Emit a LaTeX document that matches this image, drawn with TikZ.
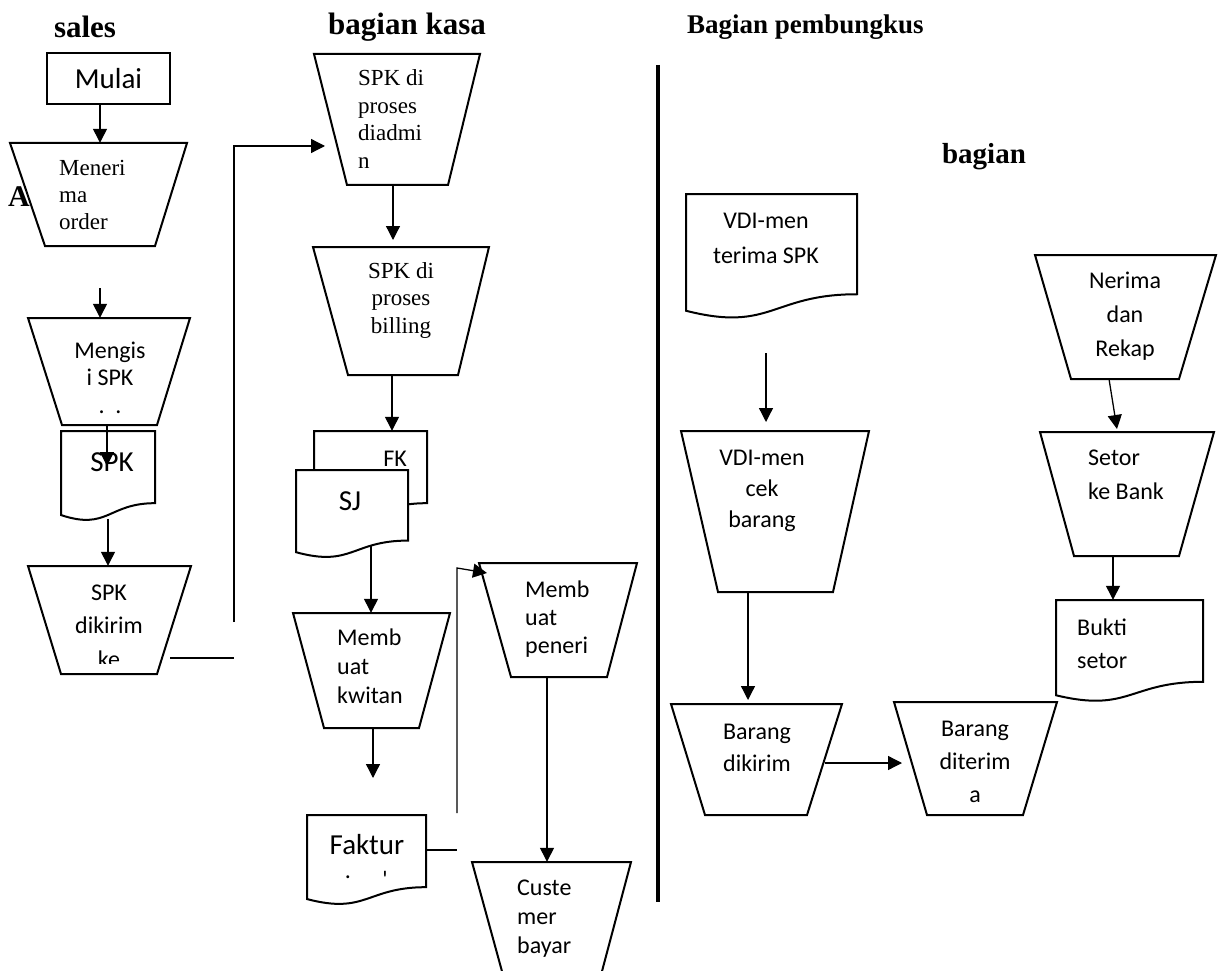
\documentclass[tikz,border=0pt]{standalone}
\usepackage{fontspec}
\setmainfont{Liberation Serif}
\newfontfamily\sansf{Carlito}
\usetikzlibrary{arrows.meta,fit,calc}

\tikzset{
  outline/.style={line width=2pt, line join=miter},
  conn/.style={line width=1.3pt},
  arr/.style={conn, -{Triangle[length=14pt,width=14pt]}},
  lanehead/.style={font=\fontsize{#1}{34}\selectfont\bfseries, inner sep=0pt},
  seriftxt/.style={font=\fontsize{23}{#1}\selectfont, inner sep=0pt, align=left},
  sanstxt/.style={font=\sansf\fontsize{24}{#1}\selectfont, inner sep=0pt},
  bigsans/.style={font=\sansf\fontsize{29}{34}\selectfont, inner sep=0pt},
}

% manual-operation box: top-left x, top-right x, top y, bottom-left x, bottom-right x, bottom y
\newcommand\trapnode[7]{%
  \draw[outline] (#2,#4) -- (#3,#4) -- (#6,#7) -- (#5,#7) -- cycle;
  \node[fit={(#2,#4) (#3,#7)}, inner sep=0pt] (#1) {};}

% document box: left x, top y, width, height
\newcommand\docnode[5]{%
  \begin{scope}[shift={(#2,#3)}]
    \draw[outline, fill=white] (0,0) -- (#4,0) -- (#4,{0.802*#5})
      .. controls ({0.5*#4},{0.802*#5}) and ({0.5*#4},{1.108*#5}) .. (0,{0.934*#5}) -- cycle;
  \end{scope}
  \node[fit={(#2,#3) ({#2+#4},{#3+#5})}, inner sep=0pt] (#1) {};}

\begin{document}
\begin{tikzpicture}[x=1pt,y=-1pt]
\useasboundingbox (0,0) rectangle (1224,971);
\fill[white] (0,0) rectangle (1224,971);
\clip (0,0) rectangle (1224,971);

% lane headings
\node[lanehead=31] (hsales) at (85,27) {sales};
\node[lanehead=31] (hkasa) at (407,27) {bagian kasa};
\node[lanehead=27, anchor=west] (hbungkus) at (687,27) {Bagian pembungkus};
\node[lanehead=29] (hbagian) at (984,157) {bagian};
\node[lanehead=30] (hA) at (19,197) {A};

% lane divider
\draw[line width=4pt] (658,65) -- (658,902);

% ---- sales ----
\node[draw, outline, minimum width=123pt, minimum height=51pt, bigsans] (mulai) at (108.5,78.5) {Mulai};
\trapnode{menerima}{10}{187}{143}{45}{155}{246}
\trapnode{mengisi}{28}{190}{318}{62}{157}{425}
\docnode{spkdoc}{61}{431}{94}{90}
\trapnode{kirimspk}{28}{191}{566}{61}{157}{674}

\node[seriftxt=27, anchor=west] (tmenerima) at (59,197) {\strut Meneri\\\strut ma\\\strut order};
\node[sanstxt=27.5, align=center] (tmengisi) at (110,380) {\strut Mengis\\\strut i SPK\\\strut .~~.};
\node[bigsans] (tspk) at (112,462) {SPK};
\begin{scope}
  \clip (20,560) rectangle (200,663);
  \node[sanstxt=33.5, align=center] (tkirim) at (109,627) {\strut SPK\\\strut dikirim\\\strut ke};
\end{scope}

% ---- bagian kasa ----
\trapnode{diadmin}{314}{480}{54}{347}{448}{185}
\trapnode{billing}{313}{489}{247}{348}{458}{375}
\docnode{fkdoc}{314}{431}{113}{90}
\node[sanstxt=28] (tfk) at (395,459) {FK};
\docnode{sjdoc}{296}{470}{112}{88}
\trapnode{kwitan}{293}{450}{613}{324}{419}{728}
\docnode{fakturdoc}{307}{815}{119}{90}
\trapnode{peneri}{479}{637}{563}{511}{607}{677}
\trapnode{custe}{472}{631}{862}{503}{601}{975}

\node[seriftxt=27.7, anchor=west] (tdiadmin) at (358,121.5) {\strut SPK di\\\strut proses\\\strut diadmi\\\strut n};
\node[seriftxt=27.5, align=center] (tbilling) at (401,300) {\strut SPK di\\\strut proses\\\strut billing};
\node[bigsans] (tsj) at (350,501) {SJ};
\node[sanstxt=29, align=left, anchor=west] (tkwitan) at (337,669) {\strut Memb\\\strut uat\\\strut kwitan};
\node[bigsans] (tfaktur) at (367,845) {Faktur};
\node[sanstxt=28] (tdot1) at (348,877) {.};
\node[sanstxt=28] (tdot2) at (385,879) {\textquotesingle};
\node[sanstxt=28, align=left, anchor=west] (tpeneri) at (525,620) {\strut Memb\\\strut uat\\\strut peneri};
\node[sanstxt=29, align=left, anchor=west] (tcuste) at (517,919) {\strut Custe\\\strut mer\\\strut bayar};

% ---- bagian pembungkus ----
\docnode{vdidoc}{686}{194}{171}{125}
\trapnode{cek}{681}{869}{431}{718}{833}{592}
\trapnode{dikirim}{671}{842}{704}{705}{807}{815}
\trapnode{diterima}{894}{1057}{702}{927}{1023}{815}
\trapnode{nerima}{1035}{1216}{255}{1071}{1179}{379}
\trapnode{setor}{1040}{1214}{432}{1074}{1179}{556}
\docnode{buktidoc}{1056}{600}{147}{102}

\node[sanstxt=35, align=center] (tvdi) at (766,239) {\strut VDI-men\\\strut terima SPK};
\node[sanstxt=31, align=center] (tcek) at (762,490) {\strut VDI-men\\\strut cek\\\strut barang};
\node[sanstxt=32, align=center] (tdikirim) at (757,749) {\strut Barang\\\strut dikirim};
\node[sanstxt=33, align=center] (tditerima) at (975,763) {\strut Barang\\\strut diterim\\\strut a};
\node[sanstxt=34, align=center] (tnerima) at (1125,316) {\strut Nerima\\\strut dan\\\strut Rekap};
\node[sanstxt=34, align=left, anchor=west] (tsetor) at (1088,476) {\strut Setor\\\strut ke Bank};
\node[sanstxt=33, align=left, anchor=west] (tbukti) at (1077,645) {\strut Bukti\\\strut setor};

% ---- connector columns and loose ends ----
\coordinate (xa) at (100,0);
\coordinate (xb) at (107,0);
\coordinate (xc) at (108,0);
\coordinate (xd) at (393,0);
\coordinate (xe) at (392,0);
\coordinate (xf) at (371,0);
\coordinate (xg) at (373,0);
\coordinate (xh) at (547,0);
\coordinate (xj) at (748,0);
\coordinate (xk) at (1113,0);

\coordinate (freeA) at (100,288);
\coordinate (spkin) at (107,466);
\coordinate (stubA) at (170,658);
\coordinate (stubB) at (234,658);
\coordinate (riseA) at (234,622);
\coordinate (adminin) at (325,146);
\coordinate (billin) at (393,240);
\coordinate (kwitout) at (373,778);
\coordinate (fakturB) at (457,850);
\coordinate (riseB) at (457,813);
\coordinate (riseBtop) at (457,568);
\coordinate (penerin) at (487,573);
\coordinate (vdiout) at (766,353);
\coordinate (cekin) at (766,422);
\coordinate (kirimin) at (748,700);
\coordinate (kirimout) at (825,763);
\coordinate (terimain) at (902,763);
\coordinate (rekapout) at (1109,379);
\coordinate (setorin) at (1117,429);

% ---- connectors ----
\draw[arr] (mulai.south -| xa) -- (menerima.north -| xa);
\draw[arr] (freeA) -- (mengisi.north -| xa);
\draw[arr] (mengisi.south -| xb) -- (spkin);
\draw[arr] ($(spkdoc.south -| xc)+(0,-2)$) -- (kirimspk.north -| xc);
\draw[conn] (stubA) -- (stubB);
\draw[arr] (riseA) |- (adminin);
\draw[arr] (diadmin.south -| xd) -- (billin);
\draw[arr] (billing.south -| xe) -- (fkdoc.north -| xe);
\draw[arr] ($(sjdoc.south -| xf)+(0,-12)$) -- (kwitan.north -| xf);
\draw[arr] (kwitan.south -| xg) -- (kwitout);
\draw[conn] ($(fakturdoc.east)+(0,-10)$) -- (fakturB);
\draw[arr] (riseB) -- (riseBtop) -- (penerin);
\draw[arr] (peneri.south -| xh) -- (custe.north -| xh);
\draw[arr] (vdiout) -- (cekin);
\draw[arr] (cek.south -| xj) -- (kirimin);
\draw[arr] (kirimout) -- (terimain);
\draw[arr] (rekapout) -- (setorin);
\draw[arr] (setor.south -| xk) -- (buktidoc.north -| xk);
\end{tikzpicture}
\end{document}
